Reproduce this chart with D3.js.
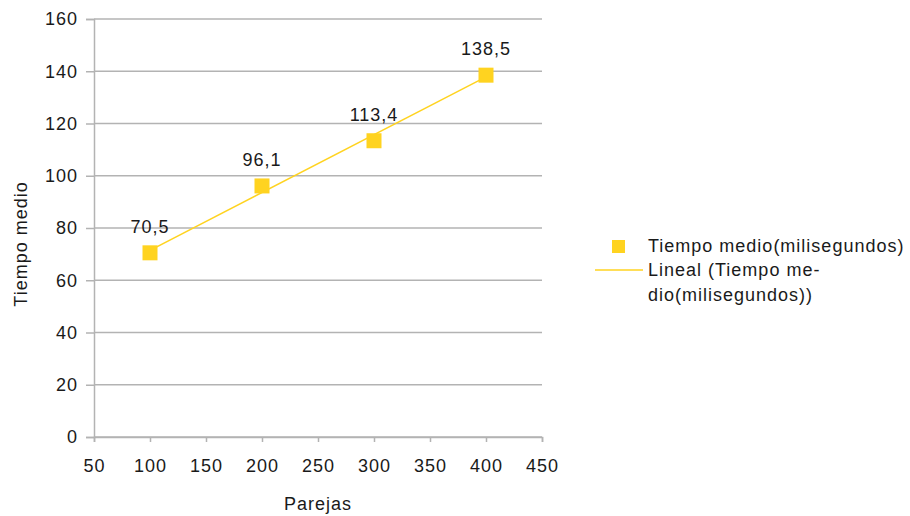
<!DOCTYPE html>
<html>
<head>
<meta charset="utf-8">
<script src="https://cdn.jsdelivr.net/npm/d3@7/dist/d3.min.js"></script>
<style>
  html, body { margin: 0; padding: 0; background: #fff; }
  svg text { font-family: "Liberation Sans", Arial, sans-serif; fill: #1a1a1a; letter-spacing: 1px; }
</style>
</head>
<body>
<svg id="chart" width="910" height="516"></svg>
<script>
// Mean time per number of pairs
const parejas = [100, 200, 300, 400];
const tiempoMedio = [70.5, 96.1, 113.4, 138.5];
const xTicks = [50, 100, 150, 200, 250, 300, 350, 400, 450];
const yTicks = [0, 20, 40, 60, 80, 100, 120, 140, 160];
const serieNombre = "Tiempo medio(milisegundos)";
const tendenciaNombre = ["Lineal (Tiempo me-", "dio(milisegundos))"];

const color = "#ffd320";
const gridColor = "#b3b3b3";
const fontSize = 18;

const svg = d3.select("#chart");
const plot = { left: 94, right: 542, top: 19, bottom: 437 };

const x = d3.scaleLinear().domain([50, 450]).range([plot.left, plot.right]);
const y = d3.scaleLinear().domain([0, 160]).range([plot.bottom, plot.top]);

// Horizontal gridlines
svg.append("g")
  .selectAll("line")
  .data(yTicks)
  .join("line")
  .attr("x1", plot.left).attr("x2", plot.right)
  .attr("y1", d => y(d)).attr("y2", d => y(d))
  .attr("stroke", gridColor).attr("stroke-width", 1.5);

function styleAxis(g) {
  g.select(".domain").attr("stroke", gridColor).attr("stroke-width", 1.5);
  g.selectAll(".tick line").attr("stroke", gridColor).attr("stroke-width", 1.5);
  g.selectAll(".tick text").attr("font-size", fontSize).attr("fill", "#1a1a1a")
    .style("font-family", "Liberation Sans, Arial, sans-serif");
}

// Y axis
svg.append("g")
  .attr("transform", `translate(${plot.left},0)`)
  .call(d3.axisLeft(y).tickValues(yTicks).tickSize(8).tickPadding(8).tickFormat(d3.format("d")))
  .call(styleAxis);

// X axis
svg.append("g")
  .attr("transform", `translate(0,${plot.bottom})`)
  .call(d3.axisBottom(x).tickValues(xTicks).tickSize(5).tickPadding(17).tickFormat(d3.format("d")))
  .call(styleAxis);

// Axis titles
svg.append("text")
  .attr("x", x(250)).attr("y", 510)
  .attr("text-anchor", "middle").attr("font-size", fontSize)
  .text("Parejas");
svg.append("text")
  .attr("transform", `translate(27,244) rotate(-90)`)
  .attr("text-anchor", "middle").attr("font-size", fontSize)
  .text("Tiempo medio");

// Least-squares linear trend line
const mx = d3.mean(parejas), my = d3.mean(tiempoMedio);
const sxy = d3.sum(parejas, (d, i) => (d - mx) * (tiempoMedio[i] - my));
const sxx = d3.sum(parejas, d => (d - mx) ** 2);
const slope = sxy / sxx, intercept = my - slope * mx;
svg.append("path")
  .datum(d3.extent(parejas))
  .attr("d", d3.line().x(d => x(d)).y(d => y(intercept + slope * d)))
  .attr("stroke", color).attr("stroke-width", 1.5).attr("fill", "none");

// Data points
const sz = 15;
svg.append("g")
  .selectAll("rect")
  .data(parejas)
  .join("rect")
  .attr("x", d => x(d) - sz / 2)
  .attr("y", (d, i) => y(tiempoMedio[i]) - sz / 2)
  .attr("width", sz).attr("height", sz)
  .attr("fill", color);

// Value labels
svg.append("g")
  .selectAll("text")
  .data(parejas)
  .join("text")
  .attr("x", d => x(d))
  .attr("y", (d, i) => y(tiempoMedio[i]) - 20)
  .attr("text-anchor", "middle").attr("font-size", fontSize)
  .text((d, i) => d3.format(".1f")(tiempoMedio[i]).replace(".", ","));

// Legend
const lg = svg.append("g");
lg.append("rect")
  .attr("x", 612).attr("y", 240).attr("width", 13).attr("height", 13)
  .attr("fill", color);
lg.append("text")
  .attr("x", 648).attr("y", 252).attr("font-size", fontSize)
  .text(serieNombre);
lg.append("line")
  .attr("x1", 595).attr("x2", 643).attr("y1", 270).attr("y2", 270)
  .attr("stroke", color).attr("stroke-width", 1.5);
lg.selectAll("text.tend")
  .data(tendenciaNombre)
  .join("text")
  .attr("class", "tend")
  .attr("x", 648).attr("y", (d, i) => 276 + i * 25).attr("font-size", fontSize)
  .text(d => d);
</script>
</body>
</html>
